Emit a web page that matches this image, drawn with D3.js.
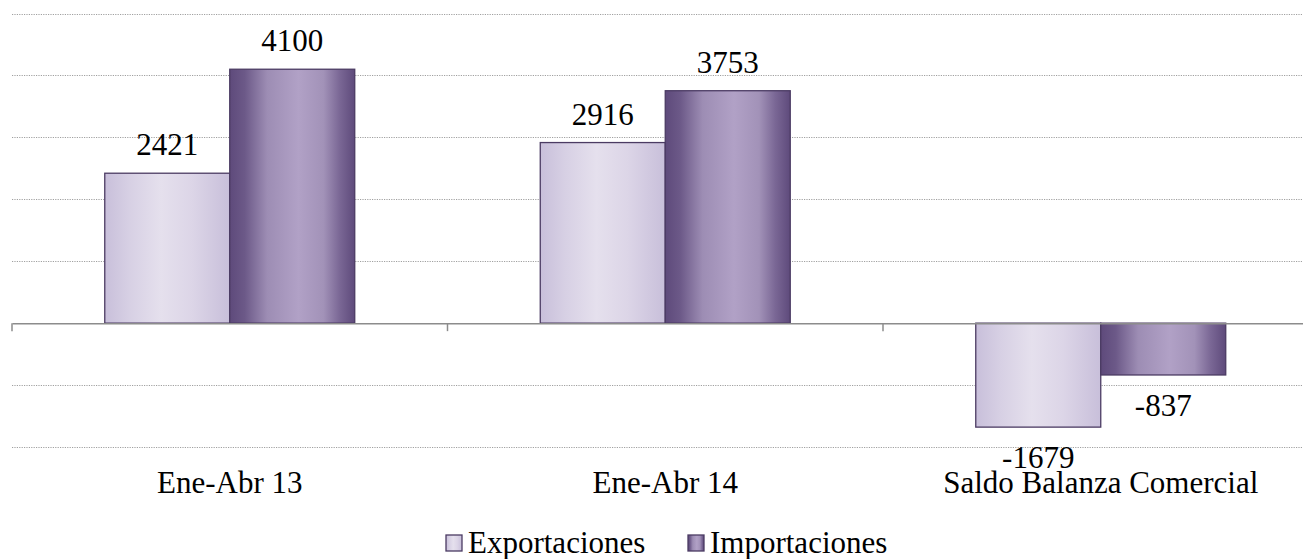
<!DOCTYPE html>
<html><head><meta charset="utf-8">
<script src="https://cdn.jsdelivr.net/npm/d3@7"></script>
<style>html,body{margin:0;padding:0;background:#fff;overflow:hidden} svg text{font-family:"Liberation Serif","Times New Roman",serif}</style>
</head><body><svg id="c" width="1303" height="559"></svg>
<script>
const categories = ["Ene-Abr 13", "Ene-Abr 14", "Saldo Balanza Comercial"];
const seriesNames = ["Exportaciones", "Importaciones"];
const exportaciones = [2421, 2916, -1679];
const importaciones = [4100, 3753, -837];
const yTicks = [-2000, -1000, 0, 1000, 2000, 3000, 4000, 5000];

const svg = d3.select("#c");
const font = "'Liberation Serif','Times New Roman',serif";
const defs = svg.append("defs");
function grad(id, stops){
  const g = defs.append("linearGradient").attr("id", id).attr("x1","0%").attr("x2","100%").attr("y1","0%").attr("y2","0%");
  stops.forEach(s => g.append("stop").attr("offset", s[0]).attr("stop-color", s[1]));
}
grad("gExp", [["0%","#c8bfda"],["20%","#d7d0e4"],["45%","#e5e0ed"],["70%","#dcd5e7"],["100%","#c8bfda"]]);
grad("gImp", [["0%","#5e4a7b"],["12%","#6c5988"],["30%","#9d8db4"],["55%","#b1a1c6"],["75%","#a292b8"],["88%","#7a6795"],["100%","#5e4a7b"]]);
const fills = ["url(#gExp)", "url(#gImp)"];

const x0 = d3.scaleBand().domain(categories).range([12, 1318.5]).paddingInner(0.426).paddingOuter(0.213);
const x1 = d3.scaleBand().domain(seriesNames).range([0, x0.bandwidth()]);
const y = d3.scaleLinear().domain([-2000, 5000]).range([447, 13.5]);

// gridlines
svg.append("g").selectAll("line").data(yTicks.filter(d => d !== 0)).join("line")
  .attr("x1", 12).attr("x2", 1303).attr("y1", d => Math.round(y(d)) + 0.5).attr("y2", d => Math.round(y(d)) + 0.5)
  .attr("stroke", "#a0a0a0").attr("stroke-width", 1).attr("stroke-dasharray", "1.2,1.2");

const data = categories.map((c, i) => ({cat: c, vals: [exportaciones[i], importaciones[i]]}));
const groups = svg.append("g").selectAll("g").data(data).join("g")
  .attr("transform", d => `translate(${x0(d.cat)},0)`);
groups.selectAll("rect").data(d => d.vals.map((v, j) => ({v, s: seriesNames[j], j}))).join("rect")
  .attr("x", d => x1(d.s)).attr("width", x1.bandwidth())
  .attr("y", d => y(Math.max(0, d.v))).attr("height", d => Math.abs(y(d.v) - y(0)))
  .attr("fill", d => fills[d.j]).attr("stroke", "#4b3b63").attr("stroke-width", 1.3);
groups.selectAll("text").data(d => d.vals.map((v, j) => ({v, s: seriesNames[j]}))).join("text")
  .attr("x", d => x1(d.s) + x1.bandwidth() / 2)
  .attr("y", d => d.v >= 0 ? y(d.v) - 18 : y(d.v) + 41)
  .attr("text-anchor", "middle").style("font-family", font).attr("font-size", 31).attr("fill", "#000")
  .text(d => String(d.v));

// axis
const ax = svg.append("g").attr("transform", `translate(0,${y(0)})`)
  .call(d3.axisBottom(x0).tickSize(0).tickFormat(""));
ax.select(".domain").attr("stroke", "#8c8c8c").attr("stroke-width", 1.5);
const bounds = [12, 447.5, 883, 1318.5];
ax.selectAll(".bt").data(bounds).join("line").attr("class", "bt")
  .attr("x1", d => d).attr("x2", d => d).attr("y1", 0).attr("y2", 8)
  .attr("stroke", "#8c8c8c").attr("stroke-width", 1.5);

svg.append("g").selectAll("text").data(categories).join("text")
  .attr("x", d => x0(d) + x0.bandwidth() / 2).attr("y", 493)
  .attr("text-anchor", "middle").style("font-family", font).attr("font-size", 31).attr("fill", "#000")
  .text(d => d);

// legend
const leg = svg.append("g");
const legX = [446, 688];
seriesNames.forEach((s, i) => {
  leg.append("rect").attr("x", legX[i]).attr("y", 535).attr("width", 16).attr("height", 16)
    .attr("fill", fills[i]).attr("stroke", "#4b3b63").attr("stroke-width", 1.3);
  leg.append("text").attr("x", legX[i] + 22).attr("y", 553)
    .style("font-family", font).attr("font-size", 31).attr("fill", "#000").text(s);
});
</script></body></html>
